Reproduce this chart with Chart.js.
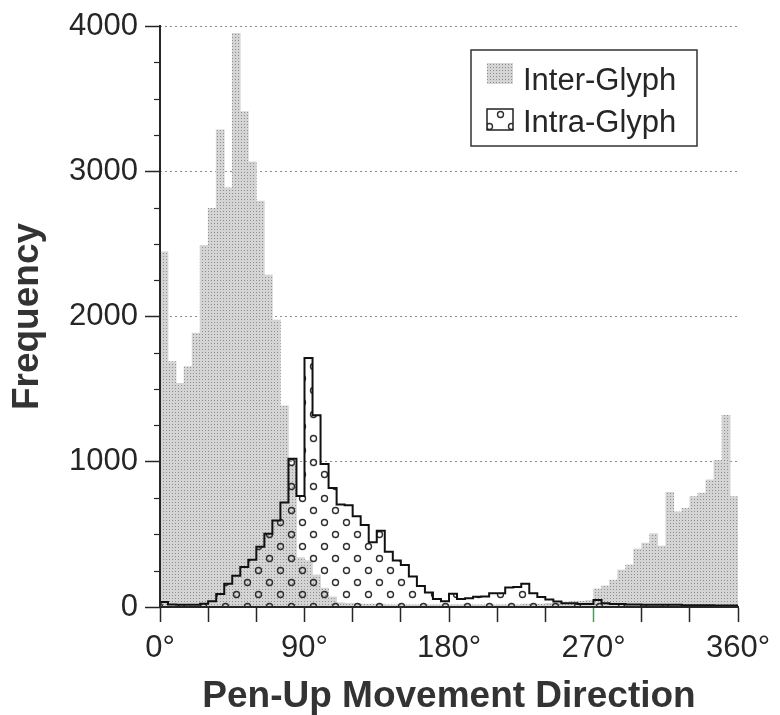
<!DOCTYPE html>
<html>
<head>
<meta charset="utf-8">
<title>Pen-Up Movement Direction</title>
<script src="https://cdn.jsdelivr.net/npm/chart.js@4.4.1/dist/chart.umd.min.js"></script>
<style>
  html, body { margin: 0; padding: 0; background: #fff; }
  #wrap { width: 780px; height: 715px; }
</style>
</head>
<body>
<div id="wrap"><canvas id="dirChart" width="780" height="715"></canvas></div>
<script>
// left edge of each 5° direction bin
const binStartDeg = [
    0,   5,  10,  15,  20,  25,  30,  35,  40,  45,  50,  55,
   60,  65,  70,  75,  80,  85,  90,  95, 100, 105, 110, 115,
  120, 125, 130, 135, 140, 145, 150, 155, 160, 165, 170, 175,
  180, 185, 190, 195, 200, 205, 210, 215, 220, 225, 230, 235,
  240, 245, 250, 255, 260, 265, 270, 275, 280, 285, 290, 295,
  300, 305, 310, 315, 320, 325, 330, 335, 340, 345, 350, 355
];
const binWidth = 5;

// counts of pen-up moves between glyphs
const interGlyph = [
  2445, 1690, 1540, 1655, 1885, 2490, 2745, 3285, 2885, 3950, 3410, 3065,
  2795, 2285, 1975, 1385,  980,  340,  320,  220,  130,   70,   30,   25,
    25,   20,   20,   20,   15,   15,   15,   15,   15,   15,   15,   15,
    15,   15,   15,   15,   15,   15,   15,   15,   15,   20,   20,   20,
    25,   25,   35,   40,   40,   45,  125,  145,  185,  255,  290,  400,
   440,  505,  420,  790,  655,  680,  760,  785,  875, 1010, 1320,  760
];

// counts of pen-up moves inside a glyph
const intraGlyph = [
    35,   18,   15,   15,   15,   22,   40,   90,  160,  215,  275,  325,
   415,  505,  595,  720, 1020,  765, 1715, 1320,  985,  820,  705,  700,
   625,  565,  445,  525,  380,  320,  290,  210,  145,  100,   55,   40,
    92,   55,   60,   70,   72,   95,   95,  135,  138,  160,   95,   68,
    52,   38,   25,   25,   20,   20,   48,   25,   20,   20,   18,   18,
    15,   15,   15,   15,   15,   12,   12,   12,   12,   10,   10,   10
];

const yMax = 4000;
const yMajorStep = 1000;
const yMinorStep = 250;
const xTickStep = 30;
const xLabelStep = 90;

const FONT = "'Liberation Sans', Arial, Helvetica, sans-serif";
const INK = '#262626';

function makeInterPattern() {
  const c = document.createElement('canvas');
  c.width = 3; c.height = 3;
  const g = c.getContext('2d');
  g.fillStyle = '#d4d4d4';
  g.fillRect(0, 0, 3, 3);
  g.fillStyle = '#8f8f8f';
  g.fillRect(1, 1, 1, 1);
  return g.createPattern(c, 'repeat');
}

function makeIntraPattern() {
  const c = document.createElement('canvas');
  c.width = 22; c.height = 24;
  const g = c.getContext('2d');
  g.strokeStyle = '#2e2e2e';
  g.lineWidth = 1.4;
  [[5.5, 6.5], [16.5, 18.5]].forEach(([x, y]) => {
    g.beginPath();
    g.arc(x, y, 3, 0, Math.PI * 2);
    g.stroke();
  });
  return g.createPattern(c, 'repeat');
}

const interPattern = makeInterPattern();
const intraPattern = makeIntraPattern();

const interBars = binStartDeg.map((d, i) => ({ x: d + binWidth / 2, y: interGlyph[i] }));
// stepped outline: one point per bin edge, last edge repeats the last bin
const intraSteps = binStartDeg.map((d, i) => ({ x: d, y: intraGlyph[i] }));
intraSteps.push({ x: binStartDeg[binStartDeg.length - 1] + binWidth, y: intraGlyph[intraGlyph.length - 1] });

// solid frequency axis line plus short ticks between the labelled ones
const frequencyAxis = {
  id: 'frequencyAxis',
  afterDraw(chart) {
    const s = chart.scales.y;
    const area = chart.chartArea;
    const ctx = chart.ctx;
    const ax = Math.round(s.right);
    ctx.save();
    ctx.strokeStyle = INK;
    ctx.lineWidth = 2;
    ctx.beginPath();
    ctx.moveTo(ax, area.top - 1);
    ctx.lineTo(ax, area.bottom + 1);
    ctx.stroke();

    ctx.lineWidth = 1.2;
    for (let v = yMinorStep; v < yMax; v += yMinorStep) {
      if (v % yMajorStep === 0) continue;
      const py = Math.round(s.getPixelForValue(v)) + 0.5;
      ctx.beginPath();
      ctx.moveTo(ax - 6, py);
      ctx.lineTo(ax, py);
      ctx.stroke();
    }
    ctx.restore();
  }
};

// framed legend in the upper right of the plot
const boxLegend = {
  id: 'boxLegend',
  afterDraw(chart) {
    const ctx = chart.ctx;
    const area = chart.chartArea;
    const bx = area.right - 267, by = area.top + 24, bw = 226, bh = 96;
    ctx.save();
    ctx.fillStyle = '#fff';
    ctx.fillRect(bx, by, bw, bh);
    ctx.strokeStyle = '#333';
    ctx.lineWidth = 1.5;
    ctx.strokeRect(bx, by, bw, bh);

    const entries = ['Inter-Glyph', 'Intra-Glyph'].map(name =>
      chart.data.datasets.find(ds => ds.label === name));
    ctx.font = '31px ' + FONT;
    ctx.textBaseline = 'alphabetic';
    entries.forEach((ds, i) => {
      const sy = by + 13 + i * 46;
      ctx.fillStyle = ds.backgroundColor;
      ctx.fillRect(bx + 16, sy, 26, 21);
      if (ds.type === 'line') {
        ctx.strokeStyle = '#222';
        ctx.lineWidth = 1.5;
        ctx.strokeRect(bx + 16, sy, 26, 21);
      }
      ctx.fillStyle = INK;
      ctx.fillText(ds.label, bx + 52, by + 40 + i * 41.5);
    });
    ctx.restore();
  }
};

new Chart(document.getElementById('dirChart'), {
  type: 'bar',
  data: {
    datasets: [
      {
        type: 'line',
        label: 'Intra-Glyph',
        data: intraSteps,
        stepped: true,
        borderColor: '#111',
        borderWidth: 2,
        pointRadius: 0,
        fill: 'origin',
        backgroundColor: intraPattern,
        order: 0
      },
      {
        type: 'bar',
        label: 'Inter-Glyph',
        data: interBars,
        backgroundColor: interPattern,
        borderWidth: 0,
        barPercentage: 1,
        categoryPercentage: 1,
        order: 1
      }
    ]
  },
  options: {
    responsive: false,
    devicePixelRatio: 1,
    animation: false,
    layout: { padding: { top: 26, right: 42, left: 0, bottom: 0 } },
    plugins: {
      legend: { display: false },
      tooltip: { enabled: false }
    },
    scales: {
      x: {
        type: 'linear',
        min: 0,
        max: 360,
        offset: false,
        grid: {
          offset: false,
          drawOnChartArea: false,
          drawTicks: true,
          tickLength: 15,
          tickWidth: 1.5,
          tickColor: ctx => (ctx.tick && ctx.tick.value === 270 ? '#4e9a57' : INK)
        },
        border: { display: true, color: INK, width: 2, z: 1 },
        ticks: {
          stepSize: xTickStep,
          autoSkip: false,
          maxRotation: 0,
          padding: 8,
          color: INK,
          font: { family: FONT, size: 31 },
          callback: v => (v % xLabelStep === 0 ? v + '°' : '')
        },
        title: {
          display: true,
          text: 'Pen-Up Movement Direction',
          color: '#333',
          font: { family: FONT, size: 37, weight: 'bold', lineHeight: 1 },
          padding: { top: 0, bottom: 0 }
        },
        afterFit: s => { s.height = 108; }
      },
      y: {
        min: 0,
        max: yMax,
        grid: {
          color: '#8c8c8c',
          lineWidth: 1,
          drawTicks: true,
          tickLength: 15,
          tickWidth: 1.5,
          tickColor: INK
        },
        // dash applies to the grid lines; the axis line is drawn by the plugin
        border: { display: false, dash: [2, 3] },
        ticks: {
          stepSize: yMajorStep,
          padding: 7,
          color: INK,
          font: { family: FONT, size: 31 },
          callback: v => String(v)
        },
        title: {
          display: true,
          text: 'Frequency',
          color: '#333',
          font: { family: FONT, size: 37, weight: 'bold', lineHeight: 1.2 },
          padding: { top: 6, bottom: 0 }
        },
        afterFit: s => { s.width = 160; }
      }
    }
  },
  plugins: [frequencyAxis, boxLegend]
});
</script>
</body>
</html>
